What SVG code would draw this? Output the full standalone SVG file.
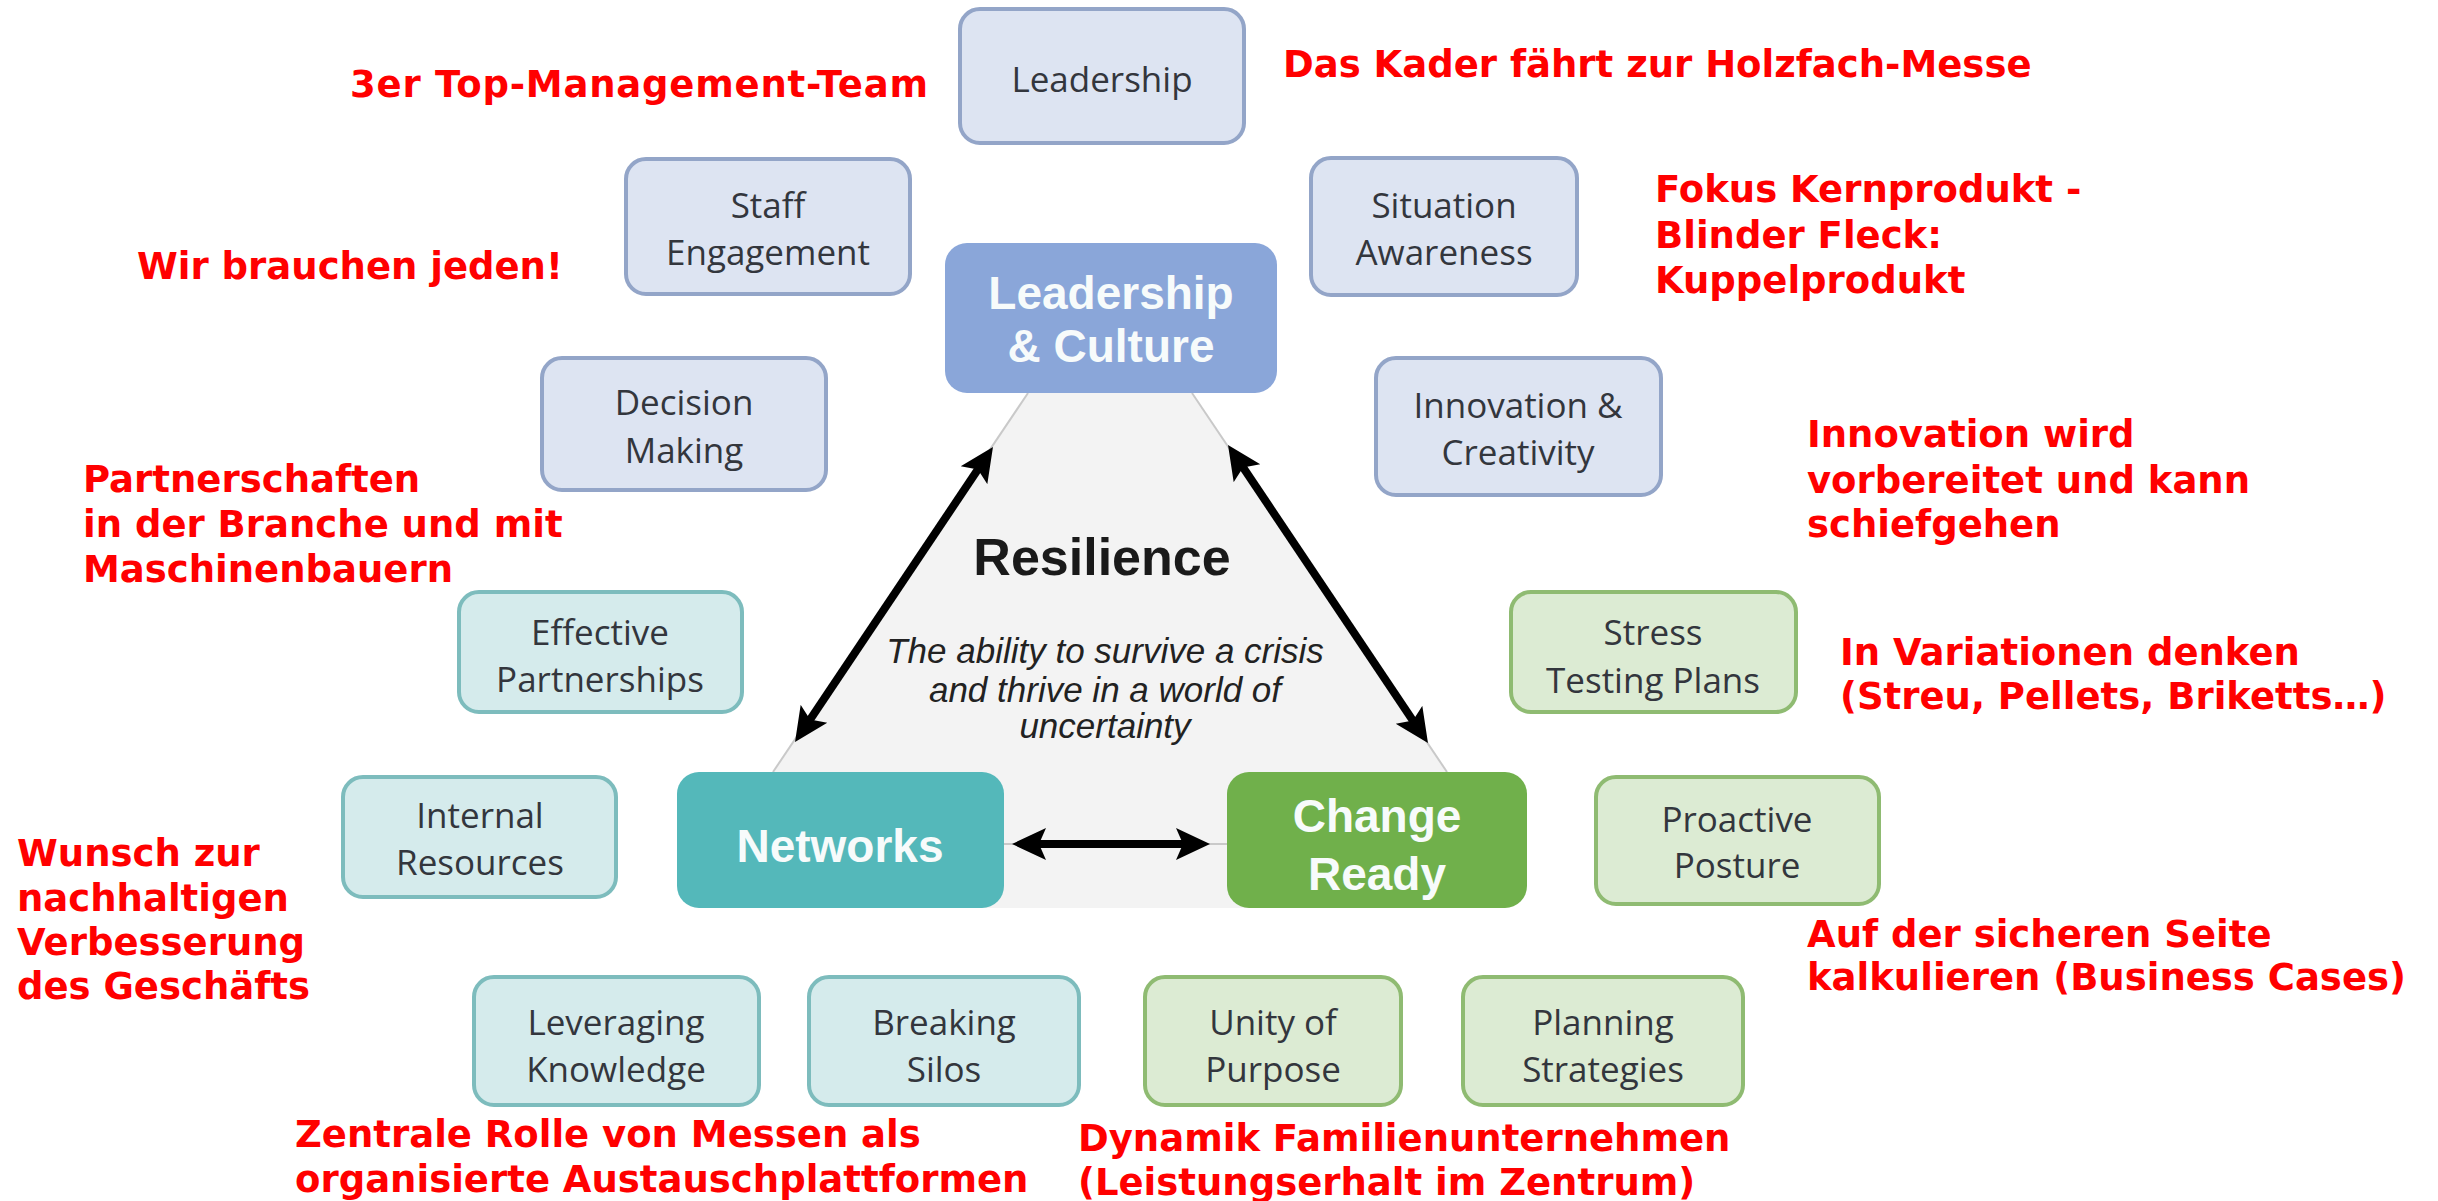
<svg xmlns="http://www.w3.org/2000/svg" width="2438" height="1201" viewBox="0 0 2438 1201">
<defs>
<style>
.note{font-family:"DejaVu Sans","Verdana",sans-serif;font-weight:bold;font-size:37px;fill:#ff0000}
.sub{font-family:"Open Sans","Noto Sans",sans-serif;font-size:35px;fill:#33363d;text-anchor:middle}
.main{font-family:"Liberation Sans",Arial,sans-serif;font-weight:bold;font-size:46px;fill:#f7fbfb;text-anchor:middle}
.blue{fill:#dde4f2;stroke:#93a5c8;stroke-width:4}
.teal{fill:#d5ebec;stroke:#7dbcbd;stroke-width:4}
.green{fill:#dcebd3;stroke:#8fbb72;stroke-width:4}
.thin{stroke:#c9c9c9;stroke-width:2;fill:none}
.arrow{stroke:#000;stroke-width:8;fill:none;marker-start:url(#ah);marker-end:url(#ah)}
</style>
<marker id="ah" viewBox="0 0 36 34" markerWidth="36" markerHeight="34" refX="24" refY="17" orient="auto-start-reverse" markerUnits="userSpaceOnUse">
<path d="M0,1 L34,17 L0,33 L7,17 Z" fill="#000"/>
</marker>
</defs>
<rect width="2438" height="1201" fill="#ffffff"/>

<g id="triangle-bg">
<polygon points="1028,393 1192,393 1447,772 1447,908 773,908 773,772" fill="#f3f3f3"/>
</g>

<g id="connectors">
<line class="thin" x1="1028" y1="393" x2="773" y2="772"/>
<line class="thin" x1="1192" y1="393" x2="1447" y2="772"/>
<line class="thin" x1="1004" y1="844" x2="1227" y2="844"/>
<line class="arrow" x1="987.4" y1="455.3" x2="800.6" y2="733.7"/>
<line class="arrow" x1="1233.6" y1="453.3" x2="1422.4" y2="734.7"/>
<line class="arrow" x1="1022" y1="844" x2="1200" y2="844"/>
</g>

<g id="resilience">
<text x="1102" y="575" font-family="Liberation Sans, Arial, sans-serif" font-weight="bold" font-size="52" fill="#1a1a1a" text-anchor="middle">Resilience</text>
<g font-family="Liberation Sans, Arial, sans-serif" font-style="italic" font-size="35" fill="#222" text-anchor="middle">
<text x="1105" y="663">The ability to survive a crisis</text>
<text x="1105" y="702">and thrive in a world of</text>
<text x="1105" y="738">uncertainty</text>
</g>
</g>

<g id="leadership-culture">
<rect x="945" y="243" width="332" height="150" rx="22" fill="#8aa6d9"/>
<text class="main" x="1111" y="309">Leadership</text>
<text class="main" x="1111" y="362">&amp; Culture</text>
</g>
<g id="networks">
<rect x="677" y="772" width="327" height="136" rx="22" fill="#54b8ba"/>
<text class="main" x="840" y="862">Networks</text>
</g>
<g id="change-ready">
<rect x="1227" y="772" width="300" height="136" rx="22" fill="#70b04b"/>
<text class="main" x="1377" y="832">Change</text>
<text class="main" x="1377" y="890">Ready</text>
</g>

<g id="leadership">
<rect class="blue" x="960" y="9" width="284" height="134" rx="20"/>
<text class="sub" x="1102" y="92">Leadership</text>
</g>
<g id="staff-engagement">
<rect class="blue" x="626" y="159" width="284" height="135" rx="20"/>
<text class="sub" x="768" y="218">Staff</text>
<text class="sub" x="768" y="265">Engagement</text>
</g>
<g id="situation-awareness">
<rect class="blue" x="1311" y="158" width="266" height="137" rx="20"/>
<text class="sub" x="1444" y="218">Situation</text>
<text class="sub" x="1444" y="265">Awareness</text>
</g>
<g id="decision-making">
<rect class="blue" x="542" y="358" width="284" height="132" rx="20"/>
<text class="sub" x="684" y="415">Decision</text>
<text class="sub" x="684" y="463">Making</text>
</g>
<g id="innovation-creativity">
<rect class="blue" x="1376" y="358" width="285" height="137" rx="20"/>
<text class="sub" x="1518" y="418">Innovation &amp;</text>
<text class="sub" x="1518" y="465">Creativity</text>
</g>
<g id="effective-partnerships">
<rect class="teal" x="459" y="592" width="283" height="120" rx="20"/>
<text class="sub" x="600" y="645">Effective</text>
<text class="sub" x="600" y="692">Partnerships</text>
</g>
<g id="internal-resources">
<rect class="teal" x="343" y="777" width="273" height="120" rx="20"/>
<text class="sub" x="480" y="828">Internal</text>
<text class="sub" x="480" y="875">Resources</text>
</g>
<g id="leveraging-knowledge">
<rect class="teal" x="474" y="977" width="285" height="128" rx="20"/>
<text class="sub" x="616" y="1035">Leveraging</text>
<text class="sub" x="616" y="1082">Knowledge</text>
</g>
<g id="breaking-silos">
<rect class="teal" x="809" y="977" width="270" height="128" rx="20"/>
<text class="sub" x="944" y="1035">Breaking</text>
<text class="sub" x="944" y="1082">Silos</text>
</g>
<g id="stress-testing-plans">
<rect class="green" x="1511" y="592" width="285" height="120" rx="20"/>
<text class="sub" x="1653" y="645">Stress</text>
<text class="sub" x="1653" y="693">Testing Plans</text>
</g>
<g id="proactive-posture">
<rect class="green" x="1596" y="777" width="283" height="127" rx="20"/>
<text class="sub" x="1737" y="832">Proactive</text>
<text class="sub" x="1737" y="878">Posture</text>
</g>
<g id="unity-of-purpose">
<rect class="green" x="1145" y="977" width="256" height="128" rx="20"/>
<text class="sub" x="1273" y="1035">Unity of</text>
<text class="sub" x="1273" y="1082">Purpose</text>
</g>
<g id="planning-strategies">
<rect class="green" x="1463" y="977" width="280" height="128" rx="20"/>
<text class="sub" x="1603" y="1035">Planning</text>
<text class="sub" x="1603" y="1082">Strategies</text>
</g>

<g id="notes">
<text class="note" x="350" y="97" textLength="578">3er Top-Management-Team</text>
<text class="note" x="1283" y="77">Das Kader fährt zur Holzfach-Messe</text>
<text class="note" x="137" y="279">Wir brauchen jeden!</text>
<text class="note" x="1655" y="202">Fokus Kernprodukt -</text>
<text class="note" x="1655" y="248">Blinder Fleck:</text>
<text class="note" x="1655" y="293">Kuppelprodukt</text>
<text class="note" x="83" y="492">Partnerschaften</text>
<text class="note" x="83" y="537">in der Branche und mit</text>
<text class="note" x="83" y="582">Maschinenbauern</text>
<text class="note" x="1807" y="447">Innovation wird</text>
<text class="note" x="1807" y="493">vorbereitet und kann</text>
<text class="note" x="1807" y="537">schiefgehen</text>
<text class="note" x="1840" y="665">In Variationen denken</text>
<text class="note" x="1840" y="709">(Streu, Pellets, Briketts…)</text>
<text class="note" x="17" y="866">Wunsch zur</text>
<text class="note" x="17" y="911">nachhaltigen</text>
<text class="note" x="17" y="955">Verbesserung</text>
<text class="note" x="17" y="999">des Geschäfts</text>
<text class="note" x="1807" y="947">Auf der sicheren Seite</text>
<text class="note" x="1807" y="990">kalkulieren (Business Cases)</text>
<text class="note" x="295" y="1147">Zentrale Rolle von Messen als</text>
<text class="note" x="295" y="1192">organisierte Austauschplattformen</text>
<text class="note" x="1078" y="1151">Dynamik Familienunternehmen</text>
<text class="note" x="1078" y="1195">(Leistungserhalt im Zentrum)</text>
</g>
</svg>
